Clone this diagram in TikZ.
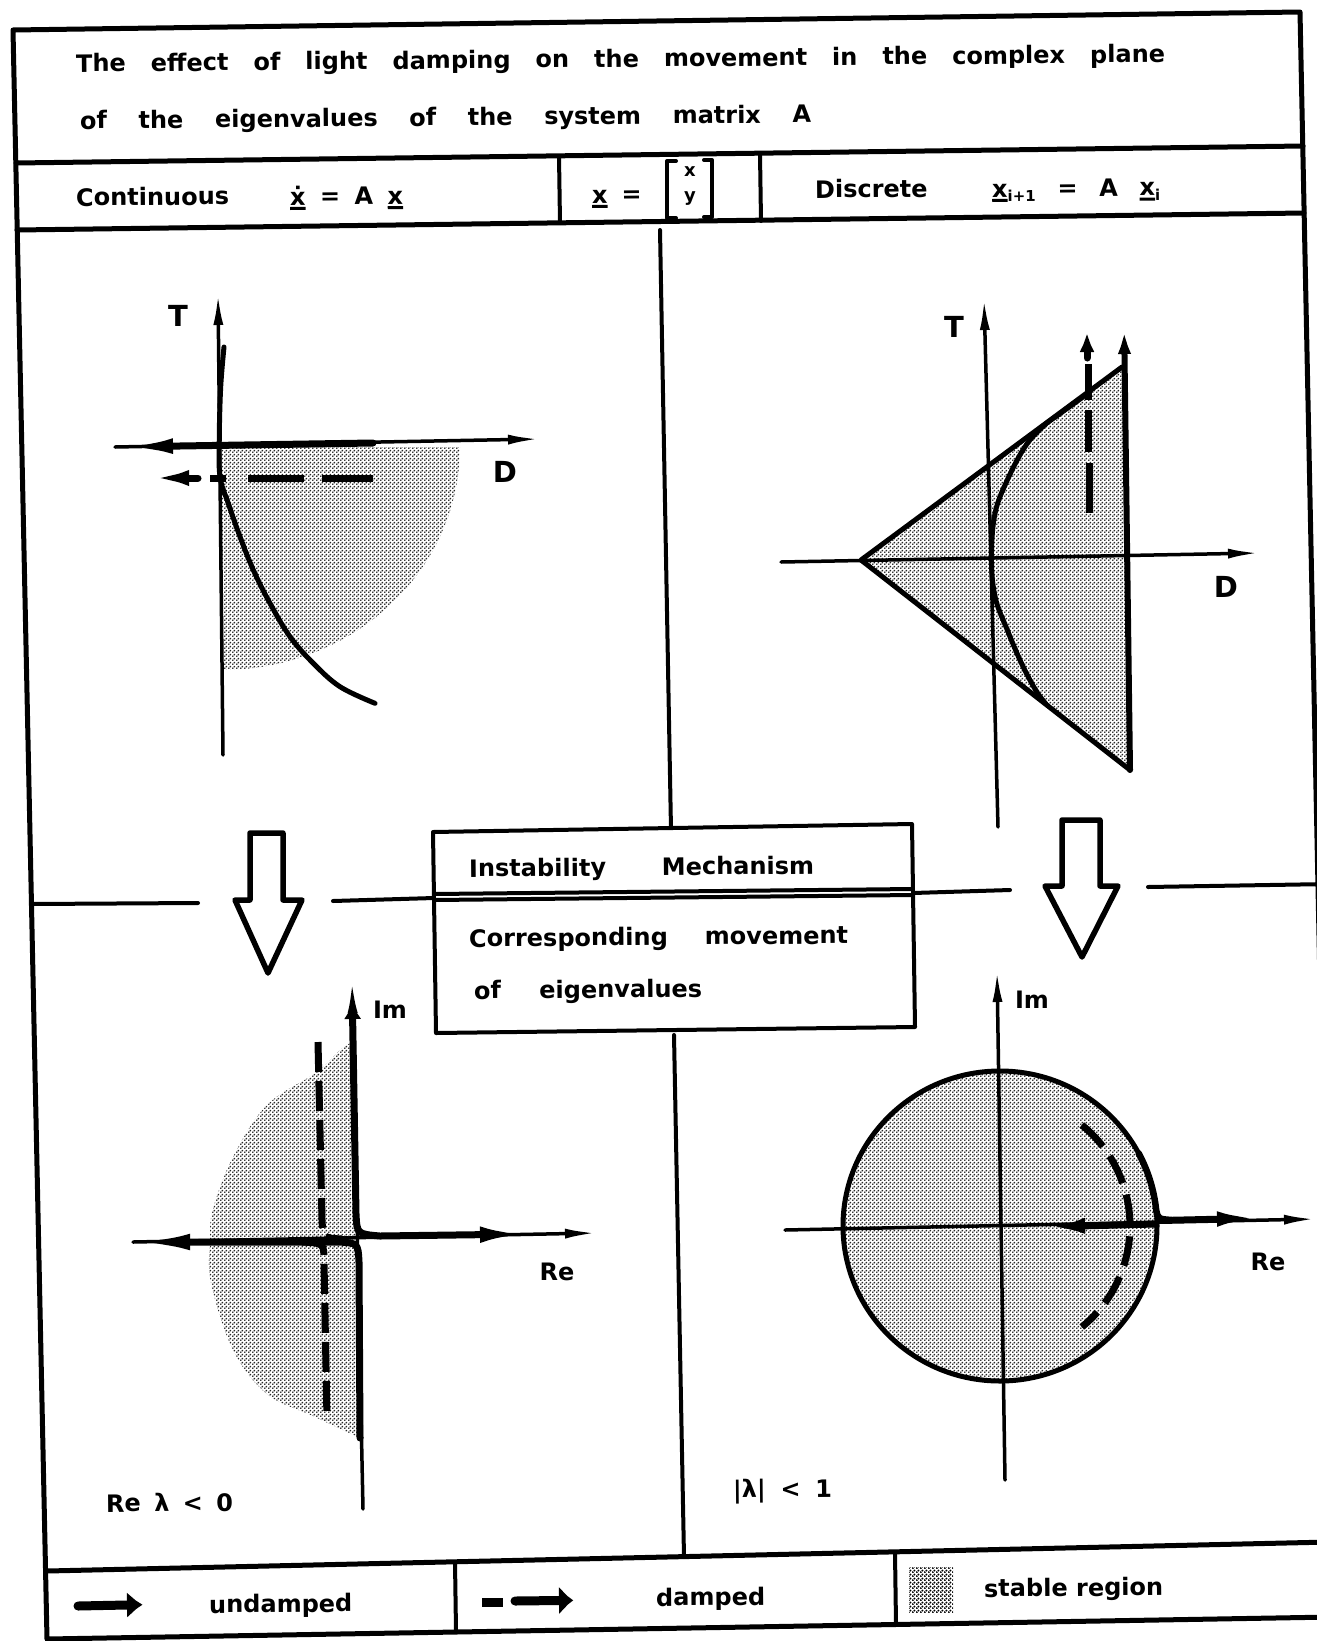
\documentclass[tikz,border=0pt]{standalone}
\usepackage{fontspec}
\setmainfont{DejaVu Sans}
\usetikzlibrary{arrows.meta,patterns}
\pgfdeclarepatternformonly{stip}{\pgfqpoint{0pt}{0pt}}{\pgfqpoint{4pt}{4pt}}{\pgfqpoint{4pt}{4pt}}{%
  \pgfpathcircle{\pgfqpoint{1pt}{1pt}}{1.15pt}%
  \pgfpathcircle{\pgfqpoint{3pt}{3pt}}{1.15pt}%
  \pgfusepath{fill}}
\pgfdeclarepatternformonly{stipdark}{\pgfqpoint{0pt}{0pt}}{\pgfqpoint{4pt}{4pt}}{\pgfqpoint{4pt}{4pt}}{%
  \pgfpathcircle{\pgfqpoint{1pt}{1pt}}{1.3pt}%
  \pgfpathcircle{\pgfqpoint{3pt}{3pt}}{1.3pt}%
  \pgfusepath{fill}}
\newcommand\vecu[1]{\vtop{\hbox{#1}\kern2pt\hrule height 3pt}}
\newcommand\xdotchar{\ooalign{x\cr\hidewidth\raisebox{0.66em}{\rule{3.5pt}{3.5pt}}\hidewidth\cr}}
\tikzset{
  frame/.style={line width=5pt, line cap=round, line join=round},
  rule/.style={line width=4pt, line cap=round, line join=round},
  axis/.style={line width=3.5pt, line cap=round, -{Latex[length=32pt,width=10pt]}},
  locus/.style={line width=7pt, line cap=round, line join=round},
  dlocus/.style={line width=7pt},
  edge/.style={line width=5pt, line join=round, line cap=round},
  stable/.style={pattern=stip, pattern color=black!85},
  txt/.style={font=\fontsize{24}{28}\selectfont\bfseries, inner sep=0pt, anchor=base west, rotate=0.5},
  lbl/.style={font=\fontsize{24}{28}\selectfont\bfseries, inner sep=0pt},
  biglbl/.style={font=\fontsize{29}{34}\selectfont\bfseries, inner sep=0pt},
  blockarrow/.style={line width=5.5pt, line join=round, fill=white},
}
\begin{document}
\begin{tikzpicture}[x=1pt,y=-1pt]
\useasboundingbox (0,0) rectangle (1317,1641);
\fill[white] (0,0) rectangle (1317,1641);
\clip (0,0) rectangle (1317,1641);

% ---------- outer frame and rules ----------
\coordinate (TL) at (13,30);
\coordinate (TR) at (1300,12);
\coordinate (BR) at (1333,1617);
\coordinate (BL) at (47,1639);
\draw[frame] (TL) -- (TR) -- (BR) -- (BL) -- cycle;
\draw[frame] (16,163) -- (1303,146);
\draw[frame] (17,230) -- (1304,213);
\draw[rule] (559,156) -- (560,223);
\draw[rule] (760,154) -- (761,221);
% centre cross
\draw[rule] (660,230) -- (671,830);
\draw[rule] (674,1035) -- (684,1557);
\draw[rule] (31,904) -- (198,903);
\draw[rule] (333,901) -- (434,898);
\draw[rule] (913,893) -- (1010,890);
\draw[rule] (1148,887) -- (1330,884);
% legend row
\draw[frame] (47,1571) -- (1330,1542);
\draw[rule] (455,1562) -- (456,1631);
\draw[rule] (895,1553) -- (896,1624);

% ---------- header texts ----------
\node[txt] (title1) at (76,72) {\makebox[1089pt][s]{The effect of light damping on the movement in the complex plane}};
\node[txt] (title2) at (80,129) {\makebox[731pt][s]{of the eigenvalues of the system matrix A}};
\node[txt] (cont) at (76,206) {Continuous};
\node[txt] (conteq) at (290,205) {\makebox[113pt][s]{\vecu{\xdotchar} = A \vecu{x}}};
\node[txt] (xdef) at (592,203) {\vecu{x}\hspace{14pt}=};
\draw[rule] (676,161) -- (667,161) -- (667,218) -- (676,218);
\draw[rule] (704,160) -- (712,160) -- (712,217) -- (704,217);
\node[lbl, font=\fontsize{18}{20}\selectfont\bfseries] (xs) at (690,172) {x};
\node[lbl, font=\fontsize{18}{20}\selectfont\bfseries] (ys) at (690,199) {y};
\node[txt] (disc) at (815,198) {Discrete};
\node[txt] (disceq) at (992,197) {\makebox[168pt][s]{\vecu{x}\raisebox{-5pt}{\fontsize{15}{18}\selectfont i+1} = A \vecu{x}\raisebox{-5pt}{\fontsize{15}{18}\selectfont i}}};

% ---------- top left: continuous T-D plane ----------
\fill[stable] (222,447) -- plot[domain=0:90,samples=40] ({222+238*cos(\x)},{447+223*sin(\x)}) -- cycle;
\draw[axis] (223,755) -- (218,293);
\draw[axis] (115,447) -- (540,439);
\draw[locus, -{Latex[length=58pt,width=15pt]}] (373,443) -- (115,447);
\draw[dlocus] (373,478) -- (322,478);
\draw[dlocus] (304,478) -- (248,478);
\draw[dlocus] (226,478) -- (210,478);
\draw[locus, -{Latex[length=44pt,width=15pt]}] (198,478) -- (145,478);
\draw[edge] plot[smooth, tension=0.6] coordinates {(224,347) (220.7,386.7) (219.3,436.7) (220,476.7) (228.3,503.3) (240,536.7) (253.3,570) (270,603.3) (290,636.7) (313.3,663.3) (340,686.7) (375,703.3)};
\node[biglbl] (T1) at (178,316) {T};
\node[biglbl] (D1) at (505,472) {D};

% ---------- top right: discrete T-D plane ----------
\fill[stable] (861,560) -- (1122,367) -- (1130,770) -- cycle;
\draw[axis] (781,562) -- (1260,553);
\draw[axis] (998,827) -- (984,298);
\draw[edge] (1122,367) -- (861,560) -- (1130,770);
\draw[edge, line width=6pt, -{Latex[length=36pt,width=12pt]}] (1130,770) -- (1124,318);
\draw[dlocus] (1089,513) -- (1089,463);
\draw[dlocus] (1088,452) -- (1088,410);
\draw[dlocus] (1088,400) -- (1088,364);
\draw[locus, -{Latex[length=32pt,width=13pt]}] (1087,358) -- (1087,320);
\draw[edge] plot[smooth, tension=0.6] coordinates {(1083,397) (1060.4,413.3) (1042.7,426.7) (1025,446.7) (1007.3,480) (995,513.3) (991.4,556.7) (995,596.7) (1007.3,630) (1021.5,663.3) (1035.6,690) (1046,704)};
\node[biglbl] (T2) at (954,327) {T};
\node[biglbl] (D2) at (1226,587) {D};

% ---------- block arrows ----------
\draw[blockarrow] (250,900) -- (250,833) -- (283,833) -- (283,900) -- (302,900) -- (268,973) -- (235,900) -- cycle;
\draw[blockarrow] (1062,886) -- (1062,820) -- (1100,820) -- (1100,886) -- (1118,886) -- (1082,957) -- (1045,886) -- cycle;

% ---------- middle box ----------
\draw[rule, fill=white] (433,832) -- (912,824) -- (915,1027) -- (436,1033) -- cycle;
\draw[rule] (434,894) -- (913,889);
\draw[rule] (434,900) -- (913,895);
\node[txt] (inst) at (469,877) {\makebox[345pt][s]{Instability Mechanism}};
\node[txt] (corr) at (469,947) {\makebox[379pt][s]{Corresponding movement}};
\node[txt] (eig) at (474,999) {\makebox[228pt][s]{of eigenvalues}};

% ---------- bottom left: continuous complex plane ----------
\fill[stable] plot[smooth, tension=0.6] coordinates {(352,1042) (340,1050) (317,1072) (267,1105) (233,1157) (213,1209) (210,1242) (211,1283) (233,1350) (267,1394) (313,1416) (360,1438)} -- cycle;
\draw[axis] (363,1509) -- (352,981);
\draw[axis] (133,1242) -- (597,1233);
\draw[locus, {Latex[length=36pt,width=13pt]}-{Latex[length=50pt,width=16pt]}] (352,983) -- (356,1214) .. controls (357,1234) .. (380,1236) -- (530,1234);
\draw[locus, -{Latex[length=60pt,width=16pt]}] (360,1438) -- (359,1262) .. controls (358,1243) .. (338,1242) -- (130,1242);
\draw[dlocus, dash pattern=on 30pt off 9pt] (318,1042) -- (322,1220) .. controls (323,1238) .. (342,1239);
\draw[dlocus, dash pattern=on 30pt off 9pt] (302,1242) .. controls (324,1243) .. (324,1262) -- (327,1420);
\node[lbl] (Im1) at (390,1010) {Im};
\node[lbl] (Re1) at (557,1272) {Re};
\node[txt] (cond1) at (106,1512) {\makebox[127pt][s]{Re λ < 0}};

% ---------- bottom right: discrete complex plane ----------
\fill[stable] (1000,1226) ellipse [x radius=157pt, y radius=155pt];
\draw[edge] (1000,1226) ellipse [x radius=157pt, y radius=155pt];
\draw[axis] (785,1230) -- (1316,1219);
\draw[axis] (1005,1480) -- (997,970);
\draw[locus, line width=6.5pt, -{Latex[length=45pt,width=15pt]}] plot[domain=28:6, samples=12] ({1000+157*cos(\x)},{1226-155*sin(\x)}) .. controls (1158,1219) .. (1172,1220) -- (1262,1218);
\draw[locus, -{Latex[length=45pt,width=15pt]}] (1155,1224) -- (1040,1227);
\draw[dlocus, dash pattern=on 30pt off 12pt] plot[domain=51:-51, samples=40] ({1000+130*cos(\x)},{1226-130*sin(\x)});
\node[lbl] (Im2) at (1032,1000) {Im};
\node[lbl] (Re2) at (1268,1262) {Re};
\node[txt] (cond2) at (733,1498) {\makebox[99pt][s]{|λ| < 1}};

% ---------- legend ----------
\draw[locus, line width=9pt, -{Latex[length=48pt,width=16pt]}] (78,1606) -- (175,1604);
\node[txt] (lg1) at (209,1613) {undamped};
\draw[locus, line width=9pt, line cap=butt] (482,1602) -- (503,1602);
\draw[locus, line width=9pt, -{Latex[length=45pt,width=16pt]}] (515,1601) -- (604,1600);
\node[txt] (lg2) at (656,1606) {damped};
\fill[pattern=stipdark, pattern color=black] (909,1567) rectangle (953,1612);
\node[txt] (lg3) at (984,1597) {stable region};
\end{tikzpicture}
\end{document}
